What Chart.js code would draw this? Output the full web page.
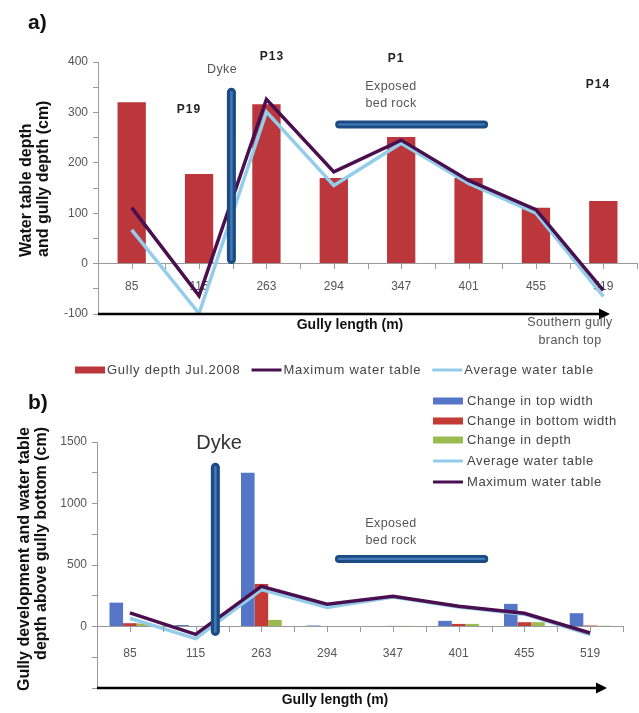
<!DOCTYPE html>
<html>
<head>
<meta charset="utf-8">
<script src="https://cdn.jsdelivr.net/npm/chart.js@4.4.1/dist/chart.umd.min.js"></script>
<style>
  html, body { margin: 0; padding: 0; background: #ffffff; }
  #wrap { position: relative; width: 639px; height: 713px; overflow: hidden; }
  canvas { position: absolute; left: 0; }
  #ca { top: 0; }
  #cb { top: 390px; }
</style>
</head>
<body>
<div id="wrap">
  <canvas id="ca" width="639" height="390"></canvas>
  <canvas id="cb" width="639" height="323"></canvas>
</div>
<script>
// Sampling positions along the gully (m)
const positions = ['85', '115', '263', '294', '347', '401', '455', '519'];

// Panel a: gully depth and water table depth (cm)
const gullyDepthJul2008 = [320, 178, 316, 170, 251, 170, 111, 124];
const maxWaterTable     = [111, -64, 326, 182, 245, 165, 107, -53];
const avgWaterTable     = [67, -99, 301, 155, 239, 159, 100, -65];

// Panel b: gully development (cm)
const changeTopWidth    = [194, 12, 1250, 8, 0, 46, 184, 108];
const changeBottomWidth = [27, 0, 346, 0, 5, 21, 35, 8];
const changeDepth       = [25, 0, 54, 0, 5, 21, 35, 6];

// Labelled y ticks
const yLabelsA = [400, 300, 200, 100, 0, -100];
const yLabelsB = [1500, 1000, 500, 0];

const SANS = '"Liberation Sans", Arial, Helvetica, sans-serif';
const NARROW = '"Liberation Sans Narrow", "Liberation Sans", Arial, sans-serif';
Chart.defaults.font.family = SANS;
Chart.defaults.animation = false;

const AXIS_GRAY = '#9a9a9a';
const TEXT_GRAY = '#555555';
const DYKE_DARK = '#1c4a82';
const DYKE_LIGHT = '#4479b8';

function drawText(ctx, s, x, y, font, color, align, spacing) {
  ctx.save();
  ctx.font = font;
  ctx.fillStyle = color;
  ctx.textAlign = align || 'center';
  ctx.textBaseline = 'middle';
  ctx.letterSpacing = spacing || '0px';
  ctx.fillText(s, x, y);
  ctx.restore();
}

function rotatedLines(ctx, lines, xs, y, font, align) {
  ctx.save();
  ctx.font = font;
  ctx.fillStyle = '#111';
  ctx.textBaseline = 'middle';
  ctx.textAlign = align;
  lines.forEach((s, i) => {
    ctx.save();
    ctx.translate(xs[i], y);
    ctx.rotate(-Math.PI / 2);
    ctx.fillText(s, 0, 0);
    ctx.restore();
  });
  ctx.restore();
}

// rounded marker bar (dyke / exposed bed rock)
function capsule(ctx, x1, y1, x2, y2, w) {
  ctx.save();
  ctx.lineCap = 'round';
  ctx.strokeStyle = DYKE_DARK;
  ctx.lineWidth = w;
  ctx.beginPath(); ctx.moveTo(x1, y1); ctx.lineTo(x2, y2); ctx.stroke();
  ctx.strokeStyle = DYKE_LIGHT;
  ctx.lineWidth = Math.max(1.5, w * 0.28);
  ctx.beginPath(); ctx.moveTo(x1, y1); ctx.lineTo(x2, y2); ctx.stroke();
  ctx.restore();
}

function arrowAlong(ctx, x1, x2, y) {
  ctx.save();
  ctx.strokeStyle = '#000';
  ctx.fillStyle = '#000';
  ctx.lineWidth = 2.5;
  ctx.beginPath(); ctx.moveTo(x1, y); ctx.lineTo(x2 - 8, y); ctx.stroke();
  ctx.beginPath();
  ctx.moveTo(x2, y); ctx.lineTo(x2 - 11, y - 5.5); ctx.lineTo(x2 - 11, y + 5.5);
  ctx.closePath(); ctx.fill();
  ctx.restore();
}

// small tick marks under the zero line, at centres and boundaries
function zeroLineTicks(chart) {
  const xs = chart.scales.x, ys = chart.scales.y, ctx = chart.ctx;
  const y0 = Math.round(ys.getPixelForValue(0));
  ctx.save();
  ctx.strokeStyle = AXIS_GRAY;
  ctx.lineWidth = 1;
  for (let i = -0.5; i <= positions.length - 0.5; i += 0.5) {
    const x = Math.round(xs.getPixelForValue(i)) + 0.5;
    ctx.beginPath(); ctx.moveTo(x, y0); ctx.lineTo(x, y0 + 5); ctx.stroke();
  }
  ctx.restore();
}

function swatch(ctx, ds, x, y) {
  ctx.save();
  if (ds.type === 'line') {
    ctx.strokeStyle = ds.borderColor;
    ctx.lineWidth = 3;
    ctx.beginPath(); ctx.moveTo(x, y); ctx.lineTo(x + 30, y); ctx.stroke();
  } else {
    ctx.fillStyle = ds.backgroundColor;
    ctx.fillRect(x, y - 3.5, 30, 7);
  }
  ctx.restore();
}

const LEGEND_FONT = '13px ' + SANS;

const annotA = {
  id: 'annotA',
  afterDraw(chart) {
    const ctx = chart.ctx, xs = chart.scales.x, ys = chart.scales.y;
    const area = chart.chartArea;
    zeroLineTicks(chart);

    // panel letter and axis titles
    drawText(ctx, 'a)', 28, 23, 'bold 21px ' + SANS, '#111', 'left');
    rotatedLines(ctx, ['Water table depth', 'and gully depth (cm)'], [27, 44], 257, 'bold 16px ' + SANS, 'left');

    // gully length arrow along the bottom
    arrowAlong(ctx, area.left, 610, ys.getPixelForValue(ys.min));
    drawText(ctx, 'Gully length (m)', 350, 325, 'bold 14px ' + SANS, '#111');
    drawText(ctx, 'Southern gully', 570, 323, '12.5px ' + SANS, TEXT_GRAY, 'center', '0.4px');
    drawText(ctx, 'branch top', 570, 341, '12.5px ' + SANS, TEXT_GRAY, 'center', '0.4px');

    // dyke and exposed bed rock
    const dx = xs.getPixelForValue(1.48);
    capsule(ctx, dx, ys.getPixelForValue(340), dx, ys.getPixelForValue(8), 9);
    const by = ys.getPixelForValue(276);
    capsule(ctx, xs.getPixelForValue(3.08), by, xs.getPixelForValue(5.23), by, 8);

    drawText(ctx, 'Dyke', 222, 70, '12.5px ' + SANS, TEXT_GRAY, 'center', '0.4px');
    drawText(ctx, 'Exposed', 391, 87, '12.5px ' + SANS, TEXT_GRAY, 'center', '0.4px');
    drawText(ctx, 'bed rock', 391, 104, '12.5px ' + SANS, TEXT_GRAY, 'center', '0.4px');
    const PFONT = 'bold 12px ' + SANS;
    drawText(ctx, 'P19', 189, 110, PFONT, '#222', 'center', '1px');
    drawText(ctx, 'P13', 272, 57, PFONT, '#222', 'center', '1px');
    drawText(ctx, 'P1', 396, 59, PFONT, '#222', 'center', '1px');
    drawText(ctx, 'P14', 598, 85, PFONT, '#222', 'center', '1px');

    // legend row
    let x = 75;
    const y = 370;
    chart.data.datasets.forEach(ds => {
      swatch(ctx, ds, x, y);
      x += 32;
      ctx.save();
      ctx.font = LEGEND_FONT;
      ctx.letterSpacing = '0.75px';
      const w = ctx.measureText(ds.label).width;
      ctx.restore();
      drawText(ctx, ds.label, x, y, LEGEND_FONT, '#444', 'left', '0.75px');
      x += w + 11;
    });
  }
};

const annotB = {
  id: 'annotB',
  afterDraw(chart) {
    const ctx = chart.ctx, xs = chart.scales.x, ys = chart.scales.y;
    const area = chart.chartArea;
    zeroLineTicks(chart);

    drawText(ctx, 'b)', 28, 13, 'bold 21px ' + SANS, '#111', 'left');
    rotatedLines(ctx, ['Gully development and water table', 'depth above gully bottom (cm)'], [25, 42], 37, 'bold 16px ' + SANS, 'right');

    arrowAlong(ctx, area.left, 607, ys.getPixelForValue(ys.min));
    drawText(ctx, 'Gully length (m)', 335, 310, 'bold 14px ' + SANS, '#111');

    const dx = xs.getPixelForValue(1.3);
    capsule(ctx, dx, ys.getPixelForValue(1294), dx, ys.getPixelForValue(-40), 9);
    const by = ys.getPixelForValue(549);
    capsule(ctx, xs.getPixelForValue(3.18), by, xs.getPixelForValue(5.39), by, 8);

    drawText(ctx, 'Dyke', 219, 53, '20px ' + NARROW, '#333');
    drawText(ctx, 'Exposed', 391, 134, '12.5px ' + SANS, TEXT_GRAY, 'center', '0.4px');
    drawText(ctx, 'bed rock', 391, 151, '12.5px ' + SANS, TEXT_GRAY, 'center', '0.4px');

    // legend column
    const rows = [11, 31, 50, 71, 92];
    chart.data.datasets.forEach((ds, i) => {
      swatch(ctx, ds, 433, rows[i]);
      drawText(ctx, ds.label, 467, rows[i], LEGEND_FONT, '#444', 'left', '0.6px');
    });
  }
};

function yAxis(min, max, step, width, labels) {
  return {
    min: min, max: max,
    afterFit(scale) { scale.width = width; },
    ticks: {
      stepSize: step, color: TEXT_GRAY, font: { size: 12 }, padding: 5,
      callback: v => labels.includes(v) ? String(v) : ''
    },
    grid: { drawOnChartArea: false, drawTicks: true, tickLength: 5, color: AXIS_GRAY },
    border: { color: AXIS_GRAY, width: 1 }
  };
}

function xAxis(pad) {
  return {
    position: { y: 0 },
    offset: true,
    grid: { display: false, drawTicks: false },
    border: { display: true, color: AXIS_GRAY, width: 1 },
    ticks: { color: TEXT_GRAY, font: { size: 12 }, padding: pad, maxRotation: 0, autoSkip: false }
  };
}

new Chart(document.getElementById('ca'), {
  type: 'bar',
  data: {
    labels: positions,
    datasets: [
      { type: 'bar', label: 'Gully depth Jul.2008', data: gullyDepthJul2008,
        backgroundColor: '#bb373c', categoryPercentage: 1, barPercentage: 0.42, order: 2 },
      { type: 'line', label: 'Maximum water table', data: maxWaterTable,
        borderColor: '#4a0f4e', borderWidth: 3.5, pointRadius: 0, tension: 0, order: 0 },
      { type: 'line', label: 'Average water table', data: avgWaterTable,
        borderColor: '#93cde9', borderWidth: 3.5, pointRadius: 0, tension: 0, order: 1 }
    ]
  },
  options: {
    responsive: false,
    animation: false,
    layout: { padding: { top: 62, right: 2, bottom: 76, left: 0 } },
    plugins: { legend: { display: false }, tooltip: { enabled: false } },
    scales: {
      x: xAxis(16),
      y: yAxis(-100, 400, 50, 98, yLabelsA)
    }
  },
  plugins: [annotA]
});

new Chart(document.getElementById('cb'), {
  type: 'bar',
  data: {
    labels: positions,
    datasets: [
      { type: 'bar', label: 'Change in top width', data: changeTopWidth,
        backgroundColor: '#5575c6', categoryPercentage: 0.62, barPercentage: 1, order: 2 },
      { type: 'bar', label: 'Change in bottom width', data: changeBottomWidth,
        backgroundColor: '#c43b35', categoryPercentage: 0.62, barPercentage: 1, order: 2 },
      { type: 'bar', label: 'Change in depth', data: changeDepth,
        backgroundColor: '#9bbb50', categoryPercentage: 0.62, barPercentage: 1, order: 2 },
      { type: 'line', label: 'Average water table', data: avgWaterTable,
        borderColor: '#93cde9', borderWidth: 3.5, pointRadius: 0, tension: 0, order: 1 },
      { type: 'line', label: 'Maximum water table', data: maxWaterTable,
        borderColor: '#4a0f4e', borderWidth: 3.5, pointRadius: 0, tension: 0, order: 0 }
    ]
  },
  options: {
    responsive: false,
    animation: false,
    layout: { padding: { top: 52, right: 16, bottom: 25, left: 0 } },
    plugins: { legend: { display: false }, tooltip: { enabled: false } },
    scales: {
      x: xAxis(20),
      y: yAxis(-500, 1500, 250, 97, yLabelsB)
    }
  },
  plugins: [annotB]
});
</script>
</body>
</html>
